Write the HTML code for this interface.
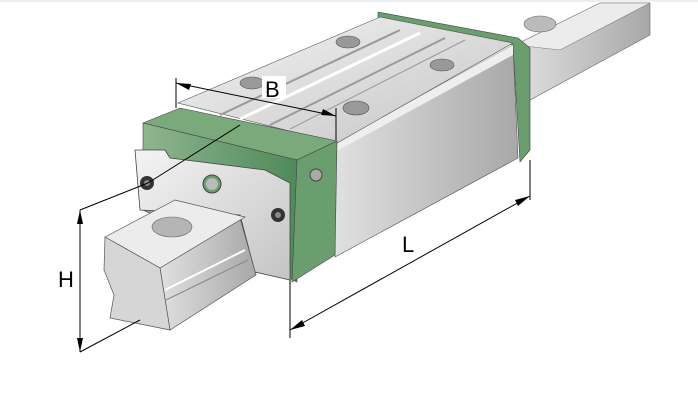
<!DOCTYPE html><html><head><style>body{margin:0;background:#fff}svg{display:block}</style></head><body>
<svg width="698" height="401" viewBox="0 0 698 401" xmlns="http://www.w3.org/2000/svg" font-family="Liberation Sans, sans-serif">
<defs>
<linearGradient id="g1" x1="0" y1="0" x2="1" y2="1"><stop offset="0" stop-color="#f4f4f4"/><stop offset="1" stop-color="#c4c4c4"/></linearGradient>
<linearGradient id="g2" x1="0" y1="0" x2="1" y2="0"><stop offset="0" stop-color="#e0e0e0"/><stop offset=".5" stop-color="#c4c4c4"/><stop offset="1" stop-color="#a8a8a8"/></linearGradient>
<linearGradient id="gr" x1="0" y1="0" x2="1" y2="0"><stop offset="0" stop-color="#8fb58f"/><stop offset="1" stop-color="#4f8a5a"/></linearGradient>
</defs>
<line x1="0" y1="1" x2="698" y2="1" stroke="#ddd"/>
<!-- rail back -->
<polygon points="515,45 600,3 650,3 650,35 530,100" fill="url(#g2)" stroke="#666" stroke-width=".6"/>
<polygon points="515,45 600,3 650,3 560,50" fill="#ececec" stroke="#777" stroke-width=".6"/>
<ellipse cx="540" cy="24" rx="16" ry="8" fill="#bbb" stroke="#666" stroke-width=".6"/>
<!-- back green cap -->
<polygon points="378,12 518,38 530,48 530,150 520,162 513,45 378,20" fill="#6a9e6e" stroke="#444" stroke-width=".6"/>
<!-- carriage right side -->
<polygon points="335,143 513,45 518,158 335,257" fill="url(#g2)" stroke="#555" stroke-width=".6"/>
<polygon points="335,143 513,45 513,55 335,152" fill="#eee"/>
<!-- carriage top -->
<polygon points="178,103 380,17 513,43 337,143" fill="url(#g1)" stroke="#555" stroke-width=".6"/>
<line x1="220" y1="115" x2="400" y2="30" stroke="#999" stroke-width="2"/>
<line x1="240" y1="119" x2="420" y2="33" stroke="#fff" stroke-width="3"/>
<line x1="270" y1="125" x2="445" y2="38" stroke="#999" stroke-width="2"/>
<line x1="290" y1="129" x2="465" y2="40" stroke="#999" stroke-width="1"/>
<ellipse cx="348" cy="42" rx="12" ry="6" fill="#999" stroke="#555" stroke-width=".6"/>
<ellipse cx="442" cy="65" rx="12" ry="6" fill="#999" stroke="#555" stroke-width=".6"/>
<ellipse cx="252" cy="83" rx="12" ry="6" fill="#999" stroke="#555" stroke-width=".6"/>
<ellipse cx="356" cy="108" rx="13" ry="7" fill="#999" stroke="#555" stroke-width=".6"/>
<!-- front green cap -->
<polygon points="143,123 180,108 337,141 297,160" fill="#7aa97c" stroke="#444" stroke-width=".6"/>
<polygon points="143,123 297,160 297,282 143,210" fill="url(#gr)" stroke="#444" stroke-width=".6"/>
<polygon points="297,160 337,141 335,255 292,282" fill="#6a9e6e" stroke="#444" stroke-width=".6"/>
<circle cx="316" cy="175" r="6" fill="#aaa" stroke="#444"/>
<!-- plate -->
<polygon points="135,150 165,150 170,158 265,170 290,183 290,280 255,272 240,215 140,210" fill="url(#g1)" stroke="#444" stroke-width=".8"/>
<circle cx="147" cy="183" r="7" fill="#333"/><circle cx="147" cy="183" r="3" fill="#888"/>
<circle cx="278" cy="215" r="7" fill="#333"/><circle cx="278" cy="215" r="3" fill="#888"/>
<circle cx="212" cy="184" r="9" fill="#6a9e6e" stroke="#444"/><circle cx="212" cy="184" r="6" fill="#bbb"/>
<!-- rail front -->
<polygon points="160,268 240,218 256,275 170,330" fill="url(#g2)" stroke="#555" stroke-width=".7"/>
<line x1="165" y1="290" x2="245" y2="250" stroke="#fff" stroke-width="2"/>
<line x1="166" y1="300" x2="248" y2="260" stroke="#888"/>
<polygon points="105,237 175,200 245,217 160,268" fill="#ececec" stroke="#555" stroke-width=".7"/>
<polygon points="105,237 160,268 170,330 110,318 114,295 104,270" fill="#d6d6d6" stroke="#555" stroke-width=".7"/>
<ellipse cx="172" cy="227" rx="20" ry="10" fill="#b5b5b5" stroke="#666" stroke-width=".6"/>
<!-- dimensions -->
<g stroke="#000" stroke-width="1" fill="none">
<line x1="176" y1="78" x2="176" y2="108"/><line x1="336" y1="108" x2="336" y2="140"/>
<line x1="176" y1="83" x2="336" y2="116"/>
<line x1="80" y1="210" x2="80" y2="352"/><line x1="80" y1="210" x2="148" y2="183"/><line x1="80" y1="352" x2="140" y2="320"/>
<line x1="290" y1="280" x2="290" y2="338"/><line x1="530" y1="160" x2="530" y2="200"/>
<line x1="290" y1="330" x2="530" y2="196"/>
<line x1="148" y1="183" x2="240" y2="125"/>
</g>
<g fill="#000">
<polygon points="176,83 191,84 189,90"/><polygon points="336,116 321,115 323,109"/>
<polygon points="80,210 77,224 83,224"/><polygon points="80,352 77,338 83,338"/>
<polygon points="290,330 302,320 305,326"/><polygon points="530,196 518,206 515,200"/>
</g>
<rect x="262" y="76" width="24" height="22" fill="#fff"/>
<text x="265" y="97" font-size="22">B</text>
<text x="402" y="252" font-size="22">L</text>
<text x="58" y="287" font-size="22">H</text>
</svg>
</body></html>
